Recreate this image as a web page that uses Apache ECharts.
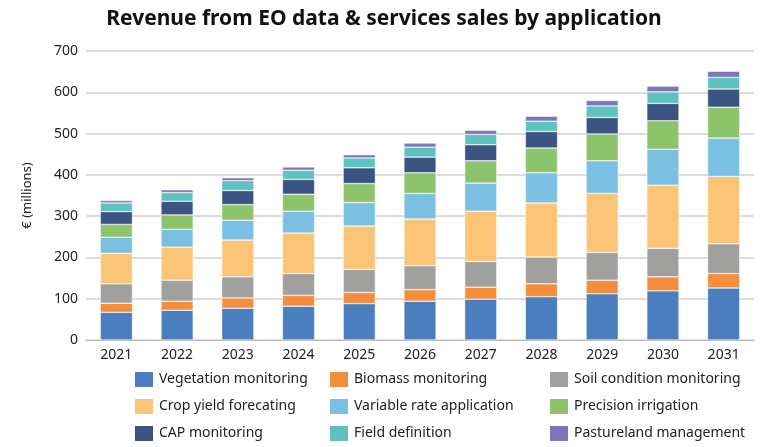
<!DOCTYPE html>
<html><head><meta charset="utf-8">
<script src="https://cdn.jsdelivr.net/npm/echarts@6/dist/echarts.min.js"></script>
<style>html,body{margin:0;padding:0;background:#fff}#c{width:768px;height:447px}</style>
</head><body><div id="c"></div>
<script>
const years = ['2021','2022','2023','2024','2025','2026','2027','2028','2029','2030','2031'];
const vegetation = [67,72,77,82,88,94,99,105,112,119,126];
const biomass = [22,22,25,26,27,28,29,31,33,34,35];
const soil = [47,51,51,53,56,58,62,65,67,69,72];
const cropYield = [74,80,89,98,105,113,122,131,143,153,163];
const variableRate = [39,43,48,53,57,62,68,73,79,87,93];
const irrigation = [31,35,38,41,46,50,54,60,65,69,75];
const cap = [31,33,34,36,38,38,39,40,40,42,44];
const field = [21,21,24,22,24,24,25,25,28,28,28];
const pasture = [6,7,7,8,8,10,10,12,13,14,15];

const names = ['Vegetation monitoring','Biomass monitoring','Soil condition monitoring','Crop yield forecating','Variable rate application','Precision irrigation','CAP monitoring','Field definition','Pastureland management'];
const data = [vegetation,biomass,soil,cropYield,variableRate,irrigation,cap,field,pasture];
const colors = ['#4a7ebf','#f28e3c','#a0a09f','#fbc477','#7bbfe2','#8dc36a','#3c5482','#5fc2bf','#7f75ba'];
const font = 'Noto Sans';
const legBase = {orient:'vertical',top:370,height:80,padding:0,itemWidth:20,itemHeight:17,itemGap:8,textStyle:{fontFamily:font,fontSize:14,color:'#222'},icon:'rect'};
const chart = echarts.init(document.getElementById('c'));
chart.setOption({
  animation:false,
  color:colors,
  title:{text:'Revenue from EO data & services sales by application',left:'center',top:4,textStyle:{fontFamily:font,fontSize:21,fontWeight:'bold',color:'#111'}},
  grid:{left:86,right:14,top:51,bottom:107},
  legend:[
    Object.assign({left:133,data:[names[0],names[3],names[6]]},legBase),
    Object.assign({left:328,data:[names[1],names[4],names[7]]},legBase),
    Object.assign({left:548,data:[names[2],names[5],names[8]]},legBase)
  ],
  xAxis:{type:'category',data:years,axisTick:{show:false},axisLine:{lineStyle:{color:'#bbb'}},axisLabel:{fontFamily:font,fontSize:14,color:'#222'}},
  yAxis:{type:'value',min:0,max:700,interval:100,name:'€ (millions)',nameLocation:'middle',nameGap:52,nameTextStyle:{fontFamily:font,fontSize:13,color:'#222'},
    axisLabel:{fontFamily:font,fontSize:14,color:'#222'},splitLine:{lineStyle:{color:'#d0d0d0',width:1.5}}},
  series:names.map((n,i)=>({name:n,type:'bar',stack:'s',data:data[i],barWidth:'53%',itemStyle:{borderColor:'#fff',borderWidth:0.5}}))
});
</script></body></html>
